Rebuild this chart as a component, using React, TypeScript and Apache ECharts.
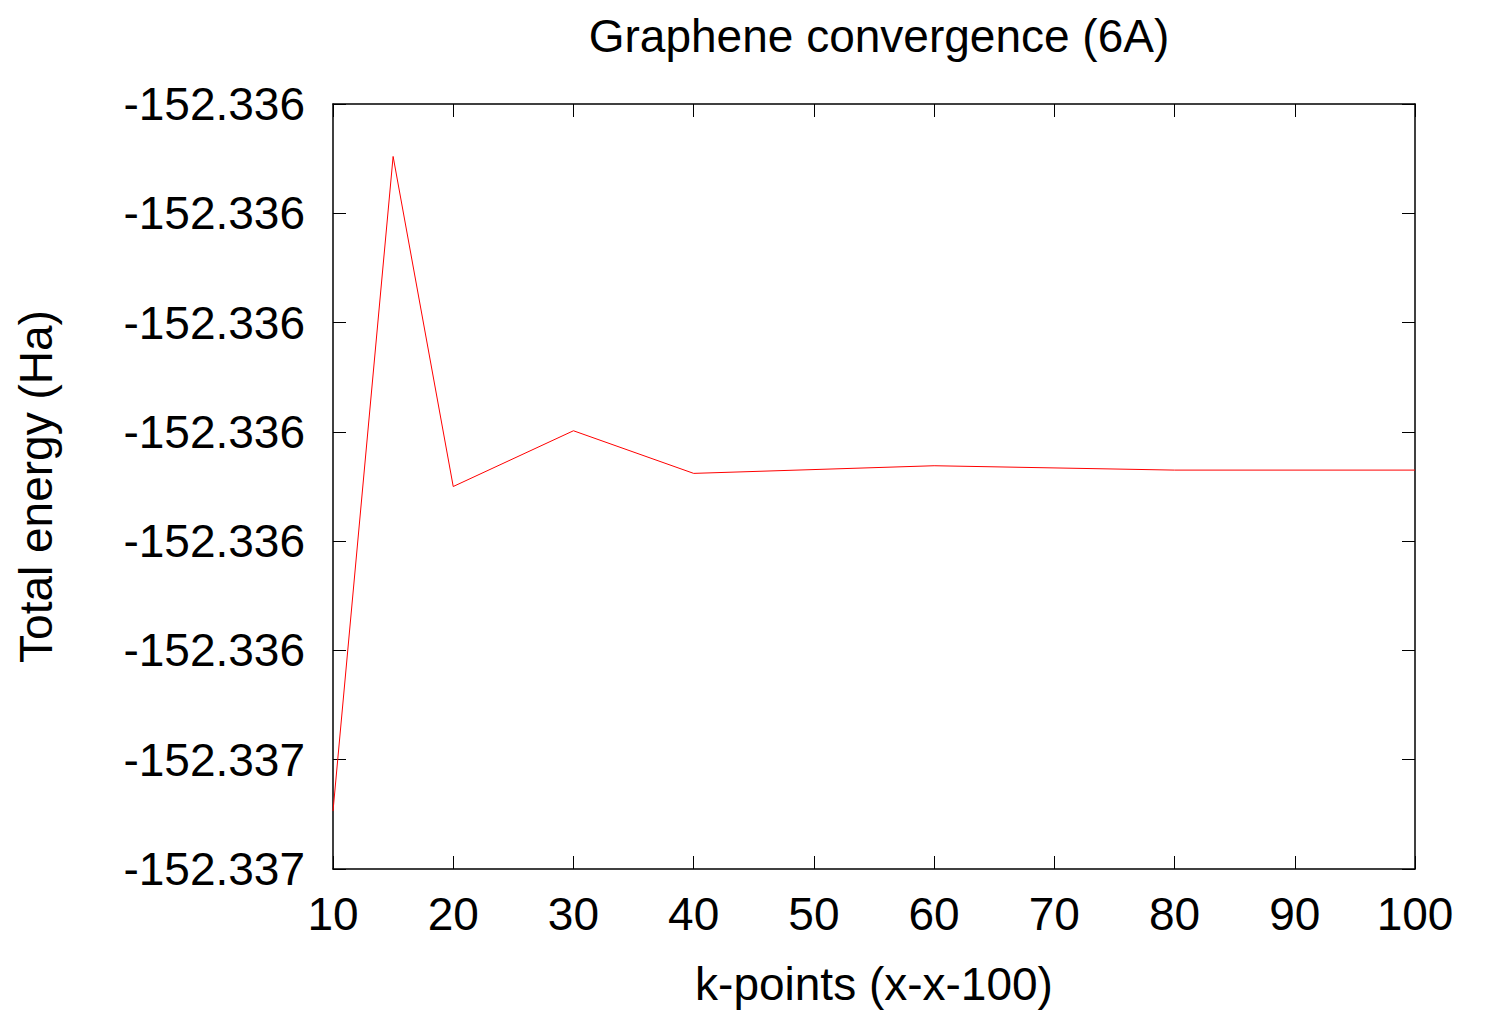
import React, { useEffect, useRef } from "react";
import * as echarts from "echarts";

const kPoints = [10, 15, 20, 30, 40, 60, 80, 100];
const totalEnergy = [
  -152.336547, -152.335948, -152.33625, -152.336199, -152.336238, -152.336231,
  -152.336235, -152.336235,
];
// tick labels from bottom to top
const yTickLabels = [
  "-152.337",
  "-152.337",
  "-152.336",
  "-152.336",
  "-152.336",
  "-152.336",
  "-152.336",
  "-152.336",
];
const yMin = -152.3366;
const yMax = -152.3359;
const yStep = 0.0001;
const xMin = 10;
const xMax = 100;
const xStep = 10;

const FONT = "'Liberation Sans', Arial, sans-serif";
const FS = 46;

export default function App() {
  const ref = useRef<HTMLDivElement>(null);
  useEffect(() => {
    if (!ref.current) return;
    const chart = echarts.init(ref.current, null, { renderer: "svg" });
    const yFormatter = (v: number) => {
      const i = Math.round((v - yMin) / yStep);
      return yTickLabels[i] ?? "";
    };
    const axisLine = { show: true, lineStyle: { color: "#000", width: 1.5 } };
    const axisTick = { show: true, inside: true, length: 13, lineStyle: { color: "#000", width: 1 } };
    chart.setOption({
      animation: false,
      backgroundColor: "#fff",
      title: {
        text: "Graphene convergence (6A)",
        left: 874,
        top: 8,
        textAlign: "center",
        textStyle: { fontFamily: FONT, fontSize: FS, fontWeight: "normal", color: "#000" },
      },
      grid: { left: 333, right: 74, top: 104, bottom: 149, containLabel: false },
      xAxis: [
        {
          type: "value",
          min: xMin,
          max: xMax,
          interval: xStep,
          position: "bottom",
          name: "k-points (x-x-100)",
          nameLocation: "middle",
          nameGap: 92,
          nameTextStyle: { fontFamily: FONT, fontSize: FS, color: "#000" },
          axisLine,
          axisTick,
          splitLine: { show: false },
          axisLabel: { fontFamily: FONT, fontSize: FS, color: "#000", margin: 22 },
        },
        {
          type: "value",
          min: xMin,
          max: xMax,
          interval: xStep,
          position: "top",
          axisLine,
          axisTick,
          splitLine: { show: false },
          axisLabel: { show: false },
        },
      ],
      yAxis: [
        {
          type: "value",
          min: yMin,
          max: yMax,
          interval: yStep,
          position: "left",
          name: "Total energy (Ha)",
          nameLocation: "middle",
          nameGap: 274,
          nameTextStyle: { fontFamily: FONT, fontSize: FS, color: "#000" },
          axisLine,
          axisTick,
          splitLine: { show: false },
          axisLabel: { fontFamily: FONT, fontSize: FS, color: "#000", margin: 28, formatter: yFormatter },
        },
        {
          type: "value",
          min: yMin,
          max: yMax,
          interval: yStep,
          position: "right",
          axisLine,
          axisTick,
          splitLine: { show: false },
          axisLabel: { show: false },
        },
      ],
      series: [
        {
          type: "line",
          xAxisIndex: 0,
          yAxisIndex: 0,
          data: kPoints.map((k, i) => [k, totalEnergy[i]]),
          showSymbol: false,
          symbol: "none",
          lineStyle: { color: "#ff0000", width: 1 },
        },
      ],
    });
    return () => chart.dispose();
  }, []);
  return (
    <div
      ref={ref}
      style={{ position: "fixed", left: 0, top: 0, width: 1489, height: 1018, background: "#fff" }}
    />
  );
}
